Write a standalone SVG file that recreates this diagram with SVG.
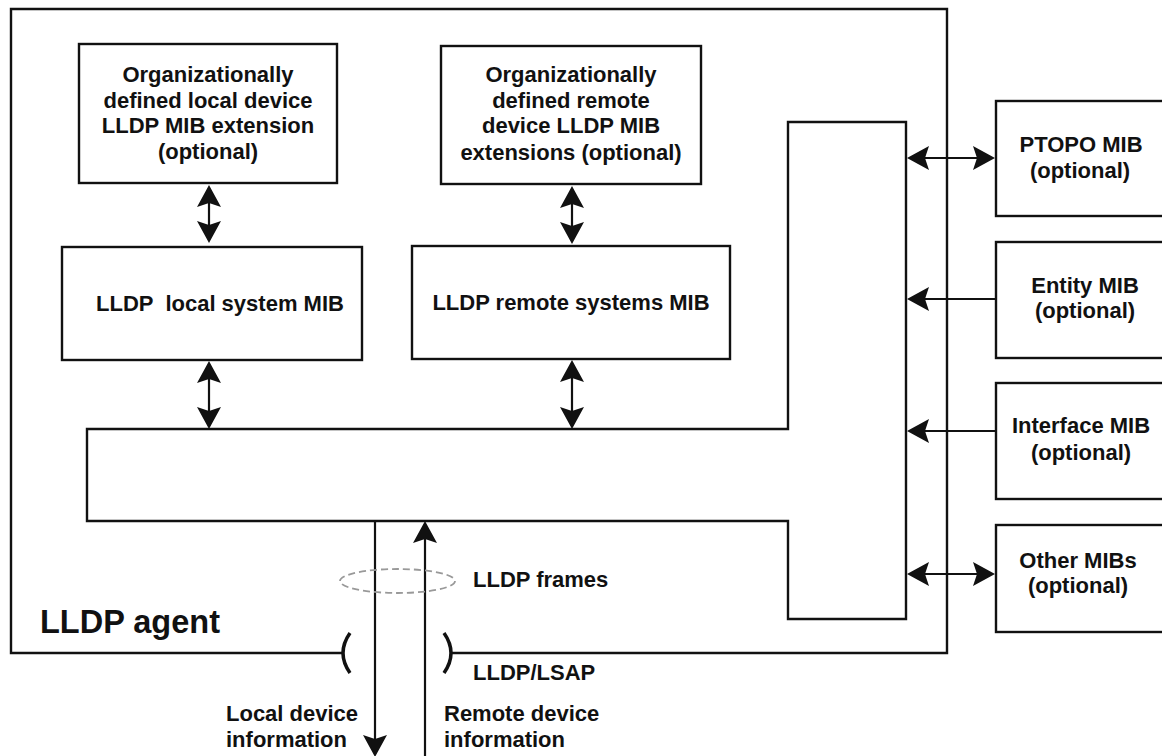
<svg xmlns="http://www.w3.org/2000/svg" width="1162" height="756" viewBox="0 0 1162 756">
<style>
.box{fill:#fff;stroke:#111;stroke-width:2.4}
.frame{fill:none;stroke:#111;stroke-width:2.4}
.ln{fill:none;stroke:#111;stroke-width:2.2}
.t{font-family:"Liberation Sans",Arial,sans-serif;font-weight:bold;font-size:22px;fill:#111}
.c{text-anchor:middle}
.paren{fill:none;stroke:#111;stroke-width:3.5}
</style>
<defs>
<marker id="ah" viewBox="0 0 22 24" refX="19" refY="12" markerWidth="22" markerHeight="24" markerUnits="userSpaceOnUse" orient="auto-start-reverse">
<path d="M0,0 L22,12 L0,24 L4,12 Z" fill="#111"/>
</marker>
</defs>
<rect width="1162" height="756" fill="#fff"/>

<g id="agent-frame">
<path class="frame" d="M342 653 H11 V9 H947 V653 H451"/>
<path class="paren" d="M350 633 Q336 653 350 673"/>
<path class="paren" d="M444 633 Q458 653 444 673"/>
<text class="t" x="40" y="633" style="font-size:32.5px">LLDP agent</text>
<text class="t" x="473" y="680">LLDP/LSAP</text>
</g>

<g id="org-local">
<rect class="box" x="79" y="44" width="258" height="139"/>
<text class="t c" x="208" y="82">Organizationally</text>
<text class="t c" x="208" y="108">defined local device</text>
<text class="t c" x="208" y="133">LLDP MIB extension</text>
<text class="t c" x="208" y="159">(optional)</text>
</g>

<g id="org-remote">
<rect class="box" x="441" y="46" width="260" height="138"/>
<text class="t c" x="571" y="82">Organizationally</text>
<text class="t c" x="571" y="108">defined remote</text>
<text class="t c" x="571" y="133">device LLDP MIB</text>
<text class="t c" x="571" y="160">extensions (optional)</text>
</g>

<g id="local-mib">
<rect class="box" x="62" y="247" width="300" height="113"/>
<text class="t c" x="220" y="311" xml:space="preserve">LLDP  local system MIB</text>
</g>

<g id="remote-mib">
<rect class="box" x="412" y="246" width="318" height="113"/>
<text class="t c" x="571" y="310">LLDP remote systems MIB</text>
</g>

<g id="lldp-core">
<path class="box" d="M87 429 H788 V122 H906 V619 H788 V521 H87 Z"/>
</g>

<g id="ptopo">
<rect class="box" x="996" y="101" width="180" height="115"/>
<text class="t c" x="1081" y="152">PTOPO MIB</text>
<text class="t c" x="1080" y="178">(optional)</text>
</g>

<g id="entity">
<rect class="box" x="996" y="242" width="180" height="116"/>
<text class="t c" x="1085" y="293">Entity MIB</text>
<text class="t c" x="1085" y="318">(optional)</text>
</g>

<g id="interface">
<rect class="box" x="996" y="383" width="180" height="116"/>
<text class="t c" x="1081" y="433">Interface MIB</text>
<text class="t c" x="1081" y="460">(optional)</text>
</g>

<g id="other">
<rect class="box" x="996" y="525" width="180" height="107"/>
<text class="t c" x="1078" y="568">Other MIBs</text>
<text class="t c" x="1078" y="593">(optional)</text>
</g>

<g id="connectors">
<line class="ln" x1="209" y1="188" x2="209" y2="240" marker-start="url(#ah)" marker-end="url(#ah)"/>
<line class="ln" x1="209" y1="364" x2="209" y2="426" marker-start="url(#ah)" marker-end="url(#ah)"/>
<line class="ln" x1="572" y1="189" x2="572" y2="241" marker-start="url(#ah)" marker-end="url(#ah)"/>
<line class="ln" x1="572" y1="363" x2="572" y2="426" marker-start="url(#ah)" marker-end="url(#ah)"/>
<line class="ln" x1="910" y1="158" x2="992" y2="158" marker-start="url(#ah)" marker-end="url(#ah)"/>
<line class="ln" x1="996" y1="299" x2="910" y2="299" marker-end="url(#ah)"/>
<line class="ln" x1="996" y1="431" x2="910" y2="431" marker-end="url(#ah)"/>
<line class="ln" x1="910" y1="574" x2="992" y2="574" marker-start="url(#ah)" marker-end="url(#ah)"/>
<line class="ln" x1="375" y1="521" x2="375" y2="754" marker-end="url(#ah)"/>
<line class="ln" x1="425" y1="760" x2="425" y2="524" marker-end="url(#ah)"/>
<ellipse cx="397.5" cy="581" rx="57.5" ry="12" fill="none" stroke="#999" stroke-width="1.8" stroke-dasharray="7,4"/>
<text class="t" x="473" y="587">LLDP frames</text>
<text class="t" x="226" y="721">Local device</text>
<text class="t" x="226" y="747">information</text>
<text class="t" x="444" y="721">Remote device</text>
<text class="t" x="444" y="747">information</text>
</g>
</svg>
